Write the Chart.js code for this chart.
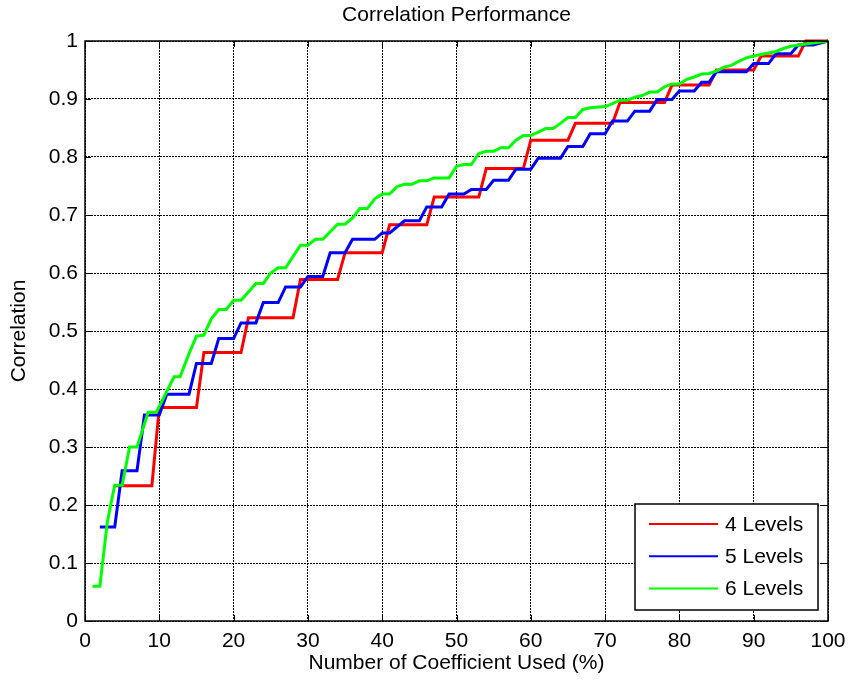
<!DOCTYPE html>
<html>
<head>
<meta charset="utf-8">
<script src="https://cdn.jsdelivr.net/npm/chart.js"></script>
<style>
  html, body { margin: 0; padding: 0; background: #fff; }
  canvas { display: block; }
</style>
</head>
<body>
<canvas id="c" width="848" height="684"></canvas>
<script>
// ---- data (x = % of coefficients, y = correlation) ----
const seriesLabels = ['4 Levels', '5 Levels', '6 Levels'];
const seriesColors = ['#ff0000', '#0000ff', '#00ff00'];

const redX = [4, 9, 10, 15, 16, 21, 22, 28, 29, 34, 35, 40, 41, 46, 47, 53, 54, 59, 60, 65, 66, 71, 72, 78, 79, 84, 85, 90, 91, 96, 97, 100];
const redY = [0.233, 0.233, 0.368, 0.368, 0.463, 0.463, 0.523, 0.523, 0.589, 0.589, 0.635, 0.635, 0.683, 0.683, 0.731, 0.731, 0.780, 0.780, 0.829, 0.829, 0.858, 0.858, 0.894, 0.894, 0.924, 0.924, 0.950, 0.950, 0.974, 0.974, 1.000, 1.000];

const blueX = [2, 4, 5, 7, 8, 10, 11, 14, 15, 17, 18, 20, 21, 23, 24, 26, 27, 29, 30, 32, 33, 35, 36, 39, 40, 41, 43, 45, 46, 48, 49, 51, 52, 54, 55, 57, 58, 60, 61, 64, 65, 67, 68, 70, 71, 73, 74, 76, 77, 79, 80, 82, 83, 84, 85, 89, 90, 92, 93, 95, 96, 98, 100];
const blueY = [0.162, 0.162, 0.259, 0.259, 0.355, 0.355, 0.391, 0.391, 0.444, 0.444, 0.487, 0.487, 0.514, 0.514, 0.549, 0.549, 0.576, 0.576, 0.594, 0.594, 0.635, 0.635, 0.658, 0.658, 0.669, 0.669, 0.690, 0.690, 0.714, 0.714, 0.736, 0.736, 0.744, 0.744, 0.760, 0.760, 0.779, 0.779, 0.798, 0.798, 0.818, 0.818, 0.840, 0.840, 0.862, 0.862, 0.879, 0.879, 0.899, 0.899, 0.914, 0.914, 0.929, 0.929, 0.947, 0.947, 0.961, 0.961, 0.978, 0.978, 0.993, 0.993, 1.000];

const greenX = [1, 2, 3, 3.5, 4, 5, 6, 7, 8.5, 9.6, 12, 12.8, 14, 15, 16, 17, 18, 19, 20, 21, 23, 24, 25, 26, 27, 29, 30, 31, 32, 33, 34, 35, 36, 37, 38, 39, 40, 41, 42, 43, 44, 45, 46, 47, 49, 50, 51, 52, 53, 54, 55, 56, 57, 58, 59, 60, 61, 62, 63, 64, 65, 66, 67, 68, 70, 71, 72, 73, 74, 75, 76, 77, 78, 79, 80, 81, 82, 83, 84, 85, 86, 87, 88, 89, 90, 91.5, 93, 94, 95, 97, 100];
const greenY = [0.060, 0.060, 0.170, 0.203, 0.234, 0.234, 0.300, 0.300, 0.360, 0.360, 0.421, 0.421, 0.461, 0.491, 0.493, 0.521, 0.537, 0.537, 0.553, 0.553, 0.582, 0.582, 0.600, 0.609, 0.609, 0.648, 0.648, 0.658, 0.658, 0.671, 0.684, 0.684, 0.695, 0.711, 0.711, 0.728, 0.736, 0.736, 0.749, 0.753, 0.753, 0.759, 0.759, 0.764, 0.764, 0.784, 0.787, 0.787, 0.806, 0.810, 0.810, 0.816, 0.816, 0.829, 0.837, 0.837, 0.843, 0.849, 0.849, 0.858, 0.868, 0.868, 0.882, 0.885, 0.887, 0.892, 0.898, 0.898, 0.903, 0.906, 0.912, 0.912, 0.921, 0.926, 0.926, 0.934, 0.938, 0.943, 0.944, 0.948, 0.955, 0.958, 0.965, 0.971, 0.974, 0.978, 0.982, 0.987, 0.991, 0.995, 1.000];

const xTicks = [0, 10, 20, 30, 40, 50, 60, 70, 80, 90, 100];
const yTicks = [0, 0.1, 0.2, 0.3, 0.4, 0.5, 0.6, 0.7, 0.8, 0.9, 1];
const yTickLabels = ['0', '0.1', '0.2', '0.3', '0.4', '0.5', '0.6', '0.7', '0.8', '0.9', '1'];

const titleText = 'Correlation Performance';
const xTitle = 'Number of Coefficient Used (%)';
const yTitle = 'Correlation';

// ---- build datasets ----
function pts(xs, ys) { return xs.map((x, i) => ({ x: x, y: ys[i] })); }
const allX = [redX, blueX, greenX];
const allY = [redY, blueY, greenY];

const FONT = "'Liberation Sans', Arial, Helvetica, sans-serif";
const FS = 21;

const datasets = seriesLabels.map((lab, i) => ({
  label: lab,
  data: pts(allX[i], allY[i]),
  borderColor: seriesColors[i],
  backgroundColor: seriesColors[i],
  borderWidth: 3,
  pointRadius: 0,
  tension: 0,
  fill: false,
  clip: false,
  order: seriesLabels.length - i
}));

// frame + inner tick marks (MATLAB style)
const framePlugin = {
  id: 'frame',
  afterDatasetsDraw(chart) {
    const { ctx, chartArea: a, scales } = chart;
    ctx.save();
    ctx.strokeStyle = '#000';
    ctx.lineWidth = 1;
    const L = 6;
    ctx.beginPath();
    xTicks.forEach(v => {
      const px = Math.round(scales.x.getPixelForValue(v)) + 0.5;
      ctx.moveTo(px, a.bottom); ctx.lineTo(px, a.bottom - L);
      ctx.moveTo(px, a.top); ctx.lineTo(px, a.top + L);
    });
    yTicks.forEach(v => {
      const py = Math.round(scales.y.getPixelForValue(v)) + 0.5;
      ctx.moveTo(a.left, py); ctx.lineTo(a.left + L, py);
      ctx.moveTo(a.right, py); ctx.lineTo(a.right - L, py);
    });
    ctx.stroke();
    ctx.lineWidth = 1.5;
    ctx.strokeRect(a.left, a.top, a.right - a.left, a.bottom - a.top);
    ctx.restore();
  }
};

// legend box inside plot, bottom-right
const legendPlugin = {
  id: 'insideLegend',
  afterDraw(chart) {
    const { ctx, chartArea: a } = chart;
    const w = 183, h = 106;
    const right = a.right - 10, bottom = a.bottom - 11;
    const left = right - w, top = bottom - h;
    ctx.save();
    ctx.fillStyle = '#fff';
    ctx.fillRect(left, top, w, h);
    ctx.strokeStyle = '#000';
    ctx.lineWidth = 1.5;
    ctx.strokeRect(left, top, w, h);
    ctx.font = FS + 'px ' + FONT;
    ctx.textBaseline = 'middle';
    ctx.textAlign = 'left';
    chart.data.datasets.forEach((ds, i) => {
      const y = top + 20 + i * 32.3;
      ctx.strokeStyle = ds.borderColor;
      ctx.lineWidth = 2;
      ctx.beginPath();
      ctx.moveTo(left + 14, y); ctx.lineTo(left + 83, y);
      ctx.stroke();
      ctx.fillStyle = '#000';
      ctx.fillText(ds.label, left + 90, y + 1);
    });
    ctx.restore();
  }
};

new Chart(document.getElementById('c'), {
  type: 'line',
  data: { datasets: datasets },
  options: {
    responsive: false,
    animation: false,
    devicePixelRatio: 1,
    layout: { padding: { top: 0, right: 20, left: 0, bottom: 0 } },
    plugins: {
      legend: { display: false },
      tooltip: { enabled: false },
      title: {
        display: true,
        text: titleText,
        fullSize: false,
        color: '#000',
        font: { family: FONT, size: FS, weight: 'normal' },
        padding: { top: 3, bottom: 41 - 3 - FS * 1.2 }
      }
    },
    scales: {
      x: {
        type: 'linear',
        min: 0, max: 100,
        afterFit(s) { s.height = 63; s.paddingLeft = 0; s.paddingRight = 0; },
        afterBuildTicks(s) { s.ticks = xTicks.map(v => ({ value: v })); },
        ticks: { color: '#000', padding: 8, font: { family: FONT, size: FS }, maxRotation: 0 },
        grid: { color: '#000', lineWidth: 1, drawTicks: false },
        border: { display: false, dash: [2, 1] },
        title: { display: true, text: xTitle, color: '#000', font: { family: FONT, size: FS }, padding: { top: 0, bottom: 8 } }
      },
      y: {
        type: 'linear',
        min: 0, max: 1,
        afterFit(s) { s.width = 85; },
        afterBuildTicks(s) { s.ticks = yTicks.map(v => ({ value: v })); },
        ticks: {
          color: '#000', padding: 7, font: { family: FONT, size: FS },
          callback: (v) => { const k = yTicks.findIndex(t => Math.abs(t - v) < 1e-9); return k >= 0 ? yTickLabels[k] : ''; }
        },
        grid: { color: '#000', lineWidth: 1, drawTicks: false },
        border: { display: false, dash: [2, 1] },
        title: { display: true, text: yTitle, color: '#000', font: { family: FONT, size: FS }, padding: { top: 7, bottom: 0 } }
      }
    }
  },
  plugins: [framePlugin, legendPlugin]
});
</script>
</body>
</html>
